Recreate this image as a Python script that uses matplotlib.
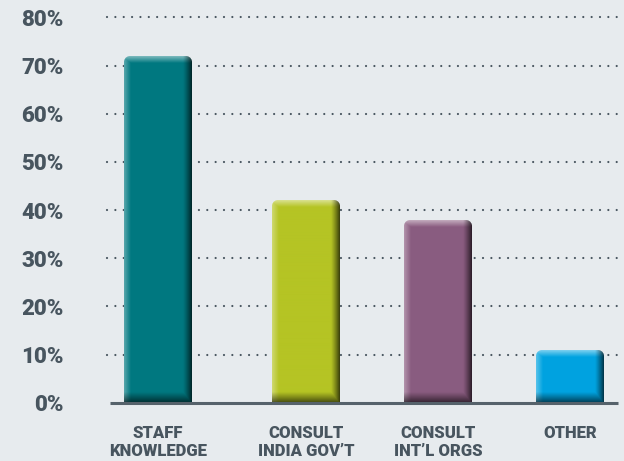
import numpy as np
import matplotlib
matplotlib.use("Agg")
import matplotlib.pyplot as plt

# Information sources used by respondents
categories = ["STAFF\nKNOWLEDGE", "CONSULT\nINDIA GOV\u2019T", "CONSULT\nINT\u2019L ORGS", "OTHER"]
values = [72, 42, 38, 11]
y_ticks = [0, 10, 20, 30, 40, 50, 60, 70, 80]
y_tick_labels = [f"{t}%" for t in y_ticks]

# Layout
positions = [0.0, 1.12, 2.12, 3.12]
bar_width = 0.515
bar_colors = ["#007880", "#b5c424", "#8a5c80", "#00a3e0"]
bg = "#e7ebee"
ink = "#48555f"

W, H, DPI = 624, 461, 100
fig = plt.figure(figsize=(W / DPI, H / DPI), dpi=DPI, facecolor=bg)
ax_left, ax_right, ax_bottom, ax_top = 107, 622, 402.7, 17.5
ax = fig.add_axes([ax_left / W, (H - ax_bottom) / H,
                   (ax_right - ax_left) / W, (ax_bottom - ax_top) / H])
ax.set_facecolor(bg)
x0 = -0.386
x1 = 3.515
ax.set_xlim(x0, x1)
ax.set_ylim(0, 80)
for s in ax.spines.values():
    s.set_visible(False)

# dotted gridlines
for t in y_ticks[1:]:
    ax.plot([x0, x1], [t, t], linestyle=(0, (0.01, 3.75)), dash_capstyle="round",
            color=ink, lw=1.6, zorder=1, clip_on=False)

# baseline
ax.plot([-0.363, 3.485], [0, 0], color="#56626b", lw=2.2, zorder=4,
        solid_capstyle="butt", clip_on=False)

px_per_x = (ax_right - ax_left) / (x1 - x0)
px_per_y = (ax_bottom - ax_top) / 80.0


def bevel_image(color, wpx, hpx, radius=6.0, edge=7.0):
    rgb = np.array(matplotlib.colors.to_rgb(color))
    ys, xs = np.mgrid[0:hpx, 0:wpx].astype(float)
    xs += 0.5
    ys += 0.5
    dl = xs
    dr = wpx - xs
    dt = ys
    db = hpx - ys
    # left highlight, right shadow, top highlight, bottom shadow
    lf = np.clip(1 - dl / edge, 0, 1)
    rf = np.clip(1 - dr / (edge * 1.3), 0, 1)
    tf = np.clip(1 - dt / edge, 0, 1)
    bf = np.clip(1 - db / (edge * 1.6), 0, 1)
    img = np.tile(rgb, (hpx, wpx, 1))
    white = np.ones(3)
    light = np.maximum(lf * 0.35, tf * 0.5)[..., None]
    img = img * (1 - light) + white * light
    dark = np.maximum(rf ** 1.2 * 0.7, bf ** 1.1 * 0.65)[..., None]
    img = img * (1 - dark)
    alpha = np.ones((hpx, wpx))
    # rounded top corners
    for cx in (radius, wpx - radius):
        cy = radius
        mask = (dt < radius) & (((xs < radius) & (cx == radius)) | ((xs > wpx - radius) & (cx != radius)))
        d = np.sqrt((xs - cx) ** 2 + (ys - cy) ** 2)
        a = np.clip(radius - d + 0.5, 0, 1)
        alpha = np.where(mask, np.minimum(alpha, a), alpha)
    return np.dstack([np.clip(img, 0, 1), alpha])


bars = ax.bar(positions, values, width=bar_width, color="none", zorder=2)
for rect, c in zip(bars, bar_colors):
    bx, bw, bh = rect.get_x(), rect.get_width(), rect.get_height()
    wpx = int(round(bw * px_per_x))
    hpx = int(round(bh * px_per_y))
    img = bevel_image(c, wpx, hpx)
    ax.imshow(img, extent=(bx, bx + bw, 0, bh), aspect="auto",
              interpolation="bilinear", zorder=3)

ax.set_xlim(x0, x1)
ax.set_ylim(0, 80)

ax.set_yticks(y_ticks)
ax.set_yticklabels(y_tick_labels)
ax.set_xticks(positions)
ax.set_xticklabels(categories)
ax.tick_params(axis="y", length=0, pad=31, labelsize=16, labelcolor=ink)
ax.tick_params(axis="x", length=0, pad=16, labelsize=12, labelcolor=ink)
for lab in ax.get_yticklabels():
    lab.set_fontfamily("Roboto")
    lab.set_fontweight("black")
for lab in ax.get_xticklabels():
    lab.set_fontfamily("Roboto")
    lab.set_fontweight("black")
    lab.set_linespacing(1.15)

fig.savefig("out.png", dpi=DPI, facecolor=bg)
